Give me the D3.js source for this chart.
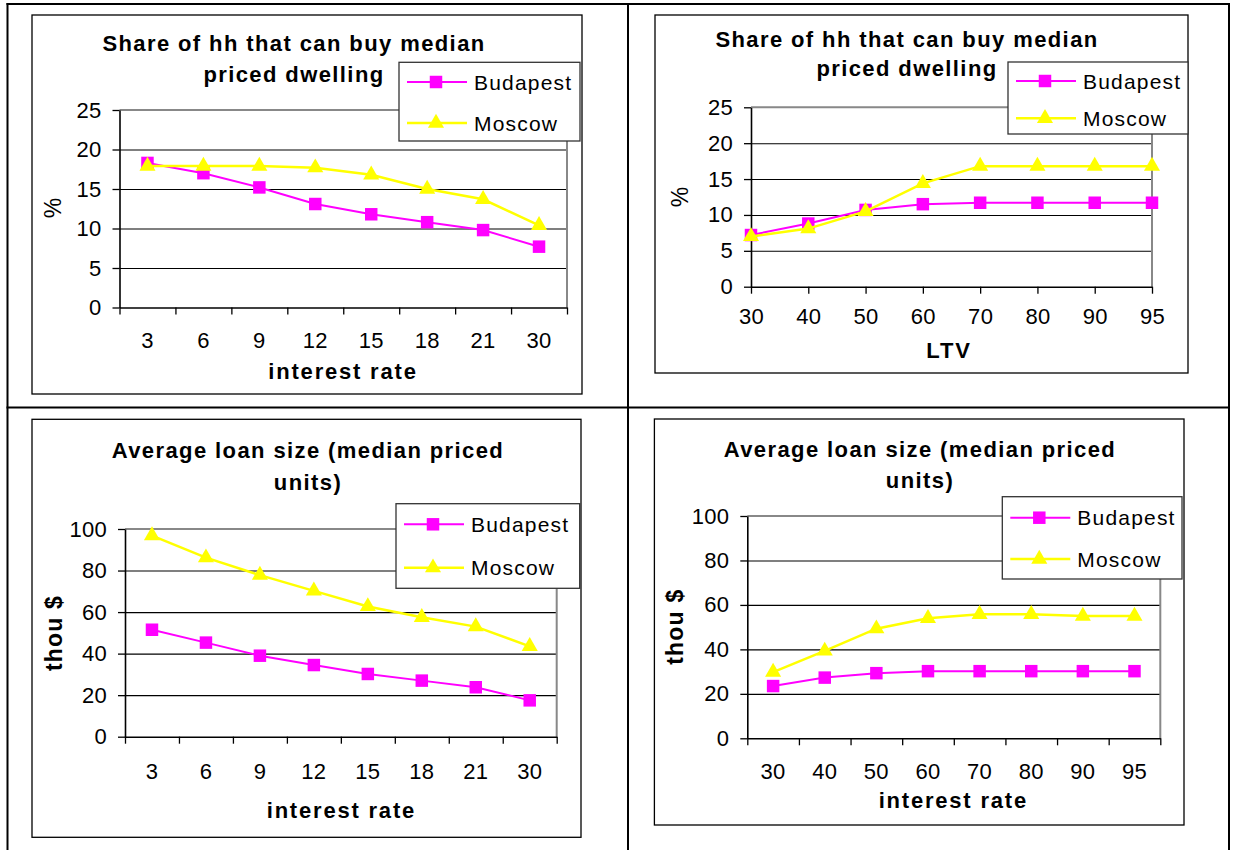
<!DOCTYPE html>
<html>
<head>
<meta charset="utf-8">
<script src="https://cdn.jsdelivr.net/npm/d3@7"></script>
<style>
  body { margin: 0; background: #fff; }
  svg { display: block; font-family: Arial, "Liberation Sans", sans-serif; }
</style>
</head>
<body>
<svg id="chart" width="1233" height="850"></svg>
<script>
// ---- data ----
const rateCategories = ["3", "6", "9", "12", "15", "18", "21", "30"];
const ltvCategories = ["30", "40", "50", "60", "70", "80", "90", "95"];
const seriesNames = ["Budapest", "Moscow"];

const shareByRateBudapest = [18.3, 17.0, 15.2, 13.1, 11.8, 10.8, 9.8, 7.7];
const shareByRateMoscow   = [17.9, 17.9, 17.9, 17.7, 16.8, 15.0, 13.7, 10.4];
const shareByLtvBudapest  = [7.2, 8.8, 10.7, 11.5, 11.7, 11.7, 11.7, 11.7];
const shareByLtvMoscow    = [7.0, 8.1, 10.5, 14.4, 16.8, 16.8, 16.8, 16.8];
const loanByRateBudapest  = [51.5, 45.3, 39.0, 34.5, 30.2, 27.0, 23.8, 17.5];
const loanByRateMoscow    = [96.8, 86.2, 77.8, 70.2, 62.7, 57.5, 53.0, 43.5];
const loanByLtvBudapest   = [23.5, 27.3, 29.3, 30.2, 30.2, 30.2, 30.2, 30.2];
const loanByLtvMoscow     = [29.8, 39.3, 49.3, 54.0, 55.8, 55.8, 55.0, 55.0];

const shareTicks = [0, 5, 10, 15, 20, 25];
const loanTicks = [0, 20, 40, 60, 80, 100];

const titleShare = ["Share of hh that can buy median", "priced dwelling"];
const titleLoan = ["Average loan size (median priced", "units)"];

// ---- styling ----
const seriesColors = ["#ff00ff", "#ffff00"];
const seriesSymbols = [d3.symbolSquare, d3.symbolTriangle];
const symbolSizes = [156, 112];
const lineWidths = [2, 2.5];

const svg = d3.select("#chart");
svg.append("rect").attr("width", 1233).attr("height", 850).attr("fill", "#fff");

// outer table frame
const frame = svg.append("g").attr("stroke", "#000").attr("stroke-width", 2);
frame.append("line").attr("x1", 7.5).attr("x2", 7.5).attr("y1", 3).attr("y2", 850);
frame.append("line").attr("x1", 628).attr("x2", 628).attr("y1", 3).attr("y2", 850);
frame.append("line").attr("x1", 1229).attr("x2", 1229).attr("y1", 3).attr("y2", 850);
frame.append("line").attr("x1", 6.5).attr("x2", 1230).attr("y1", 4).attr("y2", 4);
frame.append("line").attr("x1", 6.5).attr("x2", 1230).attr("y1", 407.5).attr("y2", 407.5);

const panels = [
  {
    cats: rateCategories, values: [shareByRateBudapest, shareByRateMoscow], ticks: shareTicks,
    title: titleShare, xTitle: "interest rate", yTitle: "%", yBold: false, band: true,
    box: [32, 15, 582, 394], plot: [119.5, 110, 567, 307.5],
    titleX: 294, titleY: [51, 82],
    legend: [399, 62.3, 580, 141], legendRows: [82, 123],
    xTickY: 348, xTitlePos: [343, 379], yTitlePos: [53, 208]
  },
  {
    cats: ltvCategories, values: [shareByLtvBudapest, shareByLtvMoscow], ticks: shareTicks,
    title: titleShare, xTitle: "LTV", yTitle: "%", yBold: false, band: false,
    box: [655, 15, 1188, 373], plot: [751, 107.3, 1152, 286.7],
    titleX: 907, titleY: [47, 76],
    legend: [1008, 62, 1188, 134], legendRows: [81, 118.3],
    xTickY: 324, xTitlePos: [949, 358], yTitlePos: [680, 197]
  },
  {
    cats: rateCategories, values: [loanByRateBudapest, loanByRateMoscow], ticks: loanTicks,
    title: titleLoan, xTitle: "interest rate", yTitle: "thou $", yBold: true, band: true,
    box: [32, 419.3, 581, 837.3], plot: [125, 529, 556.7, 736.7],
    titleX: 308, titleY: [458.3, 490],
    legend: [396, 503.7, 579.7, 588.3], legendRows: [524.3, 567.7],
    xTickY: 779, xTitlePos: [341.4, 818.3], yTitlePos: [54, 633]
  },
  {
    cats: ltvCategories, values: [loanByLtvBudapest, loanByLtvMoscow], ticks: loanTicks,
    title: titleLoan, xTitle: "interest rate", yTitle: "thou $", yBold: true, band: true,
    box: [654.4, 419, 1184, 825], plot: [747.3, 516, 1160.3, 738.3],
    titleX: 920, titleY: [456.7, 488.3],
    legend: [1002.3, 496.7, 1182, 579], legendRows: [517.7, 559],
    xTickY: 779.5, xTitlePos: [953.3, 808.3], yTitlePos: [675, 626.7]
  }
];

panels.forEach(drawPanel);

function drawPanel(p) {
  const g = svg.append("g");
  const [bx0, by0, bx1, by1] = p.box;
  const [px0, py0, px1, py1] = p.plot;
  const yMax = d3.max(p.ticks);

  // chart area frame
  g.append("rect")
    .attr("x", bx0).attr("y", by0).attr("width", bx1 - bx0).attr("height", by1 - by0)
    .attr("fill", "#fff").attr("stroke", "#000").attr("stroke-width", 1.3);

  const y = d3.scaleLinear().domain([0, yMax]).range([py1, py0]);
  let x, xPos;
  if (p.band) {
    x = d3.scaleBand().domain(p.cats).range([px0, px1]).padding(0);
    xPos = c => x(c) + x.bandwidth() / 2;
  } else {
    x = d3.scalePoint().domain(p.cats).range([px0, px1]);
    xPos = c => x(c);
  }

  // horizontal gridlines
  const grid = g.append("g").attr("transform", `translate(${px0},0)`)
    .call(d3.axisLeft(y).tickValues(p.ticks.filter(t => t > 0 && t < yMax))
      .tickSize(-(px1 - px0)).tickFormat(""));
  grid.select(".domain").remove();
  grid.selectAll("line").attr("stroke", "#000").attr("stroke-width", 1.1);

  // plot area top and right edges
  g.append("path")
    .attr("d", `M${px0},${y(yMax)}H${px1}V${py1}`)
    .attr("fill", "none").attr("stroke", "#888").attr("stroke-width", 2);

  // y axis
  const yAxis = g.append("g").attr("transform", `translate(${px0},0)`)
    .call(d3.axisLeft(y).tickValues(p.ticks).tickSize(7).tickPadding(11).tickSizeOuter(0));
  yAxis.select(".domain").attr("stroke", "#000").attr("stroke-width", 1.6);
  yAxis.selectAll("line").attr("stroke", "#000").attr("stroke-width", 1.3);
  styleTicks(yAxis);

  // x axis
  const xAxis = g.append("g").attr("transform", `translate(0,${py1})`);
  if (p.band) {
    const edges = d3.scaleLinear().domain([0, p.cats.length]).range([px0, px1]);
    xAxis.call(d3.axisBottom(edges).tickValues(d3.range(p.cats.length + 1))
      .tickSize(7).tickFormat("").tickSizeOuter(0));
    xAxis.selectAll("line").attr("stroke", "#000").attr("stroke-width", 1.3);
    xAxis.select(".domain").attr("stroke", "#000").attr("stroke-width", 1.6);
    const labels = g.append("g").attr("transform", `translate(0,${py1})`)
      .call(d3.axisBottom(x).tickSize(0));
    labels.select(".domain").remove();
    labels.selectAll("text").attr("y", p.xTickY - py1).attr("dy", null);
    styleTicks(labels);
  } else {
    xAxis.call(d3.axisBottom(x).tickSize(7).tickSizeOuter(0));
    xAxis.selectAll("line").attr("stroke", "#000").attr("stroke-width", 1.3);
    xAxis.select(".domain").attr("stroke", "#000").attr("stroke-width", 1.6);
    xAxis.selectAll("text").attr("y", p.xTickY - py1).attr("dy", null);
    styleTicks(xAxis);
  }

  // series lines and markers
  p.values.forEach((vals, i) => {
    const pts = p.cats.map((c, k) => [xPos(c), y(vals[k])]);
    g.append("path")
      .attr("d", d3.line()(pts))
      .attr("fill", "none").attr("stroke", seriesColors[i]).attr("stroke-width", lineWidths[i]);
    g.selectAll(null).data(pts).join("path")
      .attr("transform", d => `translate(${d[0]},${d[1]})`)
      .attr("d", d3.symbol(seriesSymbols[i], symbolSizes[i]))
      .attr("fill", seriesColors[i]);
  });

  // title
  g.append("text").attr("text-anchor", "middle")
    .style("font-size", "22px").style("font-weight", "bold").style("letter-spacing", "1.4px")
    .selectAll("tspan").data(p.title).join("tspan")
    .attr("x", p.titleX).attr("y", (d, i) => p.titleY[i]).text(d => d);

  // axis titles
  g.append("text").attr("x", p.xTitlePos[0]).attr("y", p.xTitlePos[1])
    .attr("text-anchor", "middle")
    .style("font-size", "22px").style("font-weight", "bold").style("letter-spacing", "1.8px")
    .text(p.xTitle);
  g.append("text")
    .attr("transform", `translate(${p.yTitlePos[0]},${p.yTitlePos[1]}) rotate(-90)`)
    .attr("text-anchor", "middle").attr("dy", "0.35em")
    .style("font-size", "23px")
    .style("font-weight", p.yBold ? "bold" : "normal")
    .style("letter-spacing", p.yBold ? "1.2px" : "0px")
    .text(p.yTitle);

  // legend
  const [lx0, ly0, lx1, ly1] = p.legend;
  const lg = g.append("g");
  lg.append("rect")
    .attr("x", lx0).attr("y", ly0).attr("width", lx1 - lx0).attr("height", ly1 - ly0)
    .attr("fill", "#fff").attr("stroke", "#333").attr("stroke-width", 1.3);
  seriesNames.forEach((name, i) => {
    const ry = p.legendRows[i];
    lg.append("line").attr("x1", lx0 + 8).attr("x2", lx0 + 68).attr("y1", ry).attr("y2", ry)
      .attr("stroke", seriesColors[i]).attr("stroke-width", lineWidths[i]);
    lg.append("path").attr("transform", `translate(${lx0 + 37},${ry})`)
      .attr("d", d3.symbol(seriesSymbols[i], symbolSizes[i])).attr("fill", seriesColors[i]);
    lg.append("text").attr("x", lx0 + 75).attr("y", ry).attr("dy", "0.36em")
      .style("font-size", "21px").style("letter-spacing", "1.2px").text(name);
  });
}

function styleTicks(sel) {
  sel.selectAll("text")
    .attr("fill", "#000").attr("font-family", null)
    .style("font-size", "22px").style("letter-spacing", "0.3px");
}
</script>
</body>
</html>
